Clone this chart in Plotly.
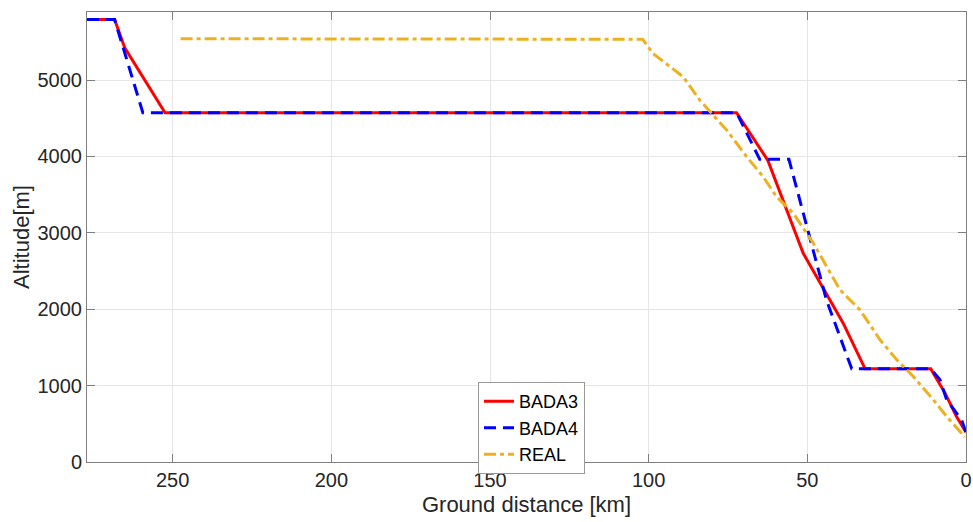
import plotly.graph_objects as go

# Data (ground distance to go [km], altitude [m])
bada3_x = [277, 268.3, 265.1, 252.4, 72.3, 62.5, 51.3, 42.4, 38.7, 31.8, 11.1, 6.6, 3.0, 0]
bada3_y = [5791, 5791, 5420, 4572, 4572, 3952, 2732, 2078, 1817, 1219, 1219, 902, 596, 390]

bada4_x = [277, 268.3, 259.4, 72.3, 65.0, 55.8, 44.0, 36.0, 11.1, 8.2, 6.1, 1.4, 0]
bada4_y = [5791, 5791, 4572, 4572, 3962, 3962, 2123, 1219, 1219, 1078, 815, 553, 383]

real_x = [247.5, 101.9, 98.6, 93.3, 89.1, 83.9, 79.7, 75.4, 69.1, 63.9, 59.7, 54.4,
          48.1, 45.0, 39.7, 33.4, 27.1, 21.8, 16.6, 10.3, 6.1, 0.4]
real_y = [5540, 5533, 5346, 5171, 5040, 4736, 4540, 4344, 3995, 3733, 3472, 3255,
          2863, 2644, 2252, 1991, 1600, 1337, 1119, 814, 596, 327]

x_ticks = [250, 200, 150, 100, 50, 0]
y_ticks = [0, 1000, 2000, 3000, 4000, 5000]

FONT = "Liberation Sans, Arial, sans-serif"
TXT = "#262626"
AX = "#7f7f7f"
GRID = "#e6e6e6"

fig = go.Figure()
fig.add_trace(go.Scatter(x=bada3_x, y=bada3_y, mode="lines", name="BADA3",
                         line=dict(color="#ff0000", width=3)))
fig.add_trace(go.Scatter(x=bada4_x, y=bada4_y, mode="lines", name="BADA4",
                         line=dict(color="#0000ff", width=3, dash="12px,7px")))
fig.add_trace(go.Scatter(x=real_x, y=real_y, mode="lines", name="REAL",
                         line=dict(color="#edb120", width=3, dash="12px,4px,4px,4px")))

fig.update_layout(
    width=973, height=522,
    margin=dict(l=87, r=7, t=12, b=60),
    paper_bgcolor="white", plot_bgcolor="white",
    font=dict(family=FONT, size=20, color=TXT),
    showlegend=True,
    legend=dict(x=0.4448, y=0.1775, xanchor="left", yanchor="top",
                bgcolor="white", bordercolor="#999999", borderwidth=1,
                font=dict(size=18, color="#000000"),
                itemwidth=30, tracegroupgap=0),
)
fig.update_xaxes(
    range=[277, 0], tickvals=x_ticks, ticktext=[str(v) for v in x_ticks],
    showgrid=True, gridcolor=GRID, gridwidth=1, zeroline=False,
    showline=True, linecolor=AX, linewidth=1, mirror="ticks",
    ticks="inside", ticklen=8, tickcolor=AX, automargin=False,
    title=dict(text="Ground distance [km]", font=dict(size=22), standoff=6),
)
fig.update_yaxes(
    range=[0, 5890], tickvals=y_ticks, ticktext=[str(v) for v in y_ticks],
    showgrid=True, gridcolor=GRID, gridwidth=1, zeroline=False,
    showline=True, linecolor=AX, linewidth=1, mirror="ticks",
    ticks="inside", ticklen=8, tickcolor=AX, automargin=True,
    title=dict(text="Altitude[m]", font=dict(size=22), standoff=1),
)

fig.write_html("out.html")
